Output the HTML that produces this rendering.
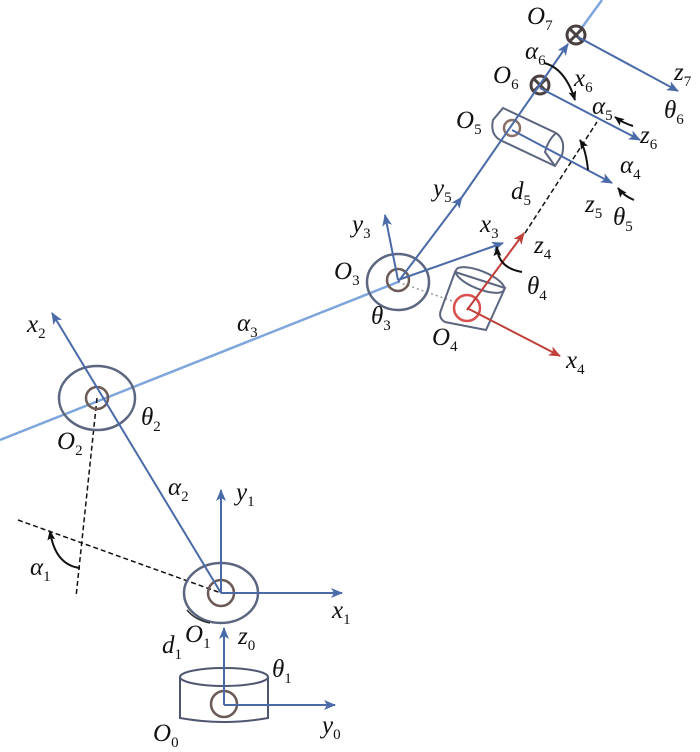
<!DOCTYPE html>
<html><head><meta charset="utf-8"><style>
html,body{margin:0;padding:0;background:#fff}
svg{display:block}
text{font-family:"Liberation Serif",serif;font-style:italic;font-size:25px;fill:#111}
tspan.s{font-size:15px;font-style:normal}
</style></head><body>
<svg width="700" height="752" viewBox="0 0 700 752" xmlns="http://www.w3.org/2000/svg">
<defs>
<marker id="ab" markerWidth="12" markerHeight="10" refX="11" refY="5" orient="auto" markerUnits="userSpaceOnUse"><path d="M0,0 L12,5 L0,10 L3,5 z" fill="#4a6aa8"/></marker>
<marker id="ar" markerWidth="12" markerHeight="10" refX="11" refY="5" orient="auto" markerUnits="userSpaceOnUse"><path d="M0,0 L12,5 L0,10 L3,5 z" fill="#c0403a"/></marker>
<marker id="ak" markerWidth="10" markerHeight="8" refX="9" refY="4" orient="auto" markerUnits="userSpaceOnUse"><path d="M0,0 L10,4 L0,8 L2,4 z" fill="#111"/></marker>
</defs>
<g fill="none">
<line x1="0" y1="440" x2="398" y2="282" stroke="#7ea6dc" stroke-width="2.5"/>
<line x1="398" y1="282" x2="455" y2="302" stroke="#999" stroke-width="1.5" stroke-dasharray="2,3"/>
<line x1="575" y1="37" x2="602" y2="0" stroke="#7ea6dc" stroke-width="2.5"/>
<g stroke="#111" stroke-width="1.5" stroke-dasharray="5,3">
<line x1="97" y1="398" x2="76" y2="597"/>
<line x1="18" y1="520" x2="221" y2="593"/>
<line x1="525" y1="233" x2="597" y2="122"/>
</g>
<g stroke="#5c6680" stroke-width="2.5">
<ellipse cx="97" cy="398" rx="38" ry="32"/>
<ellipse cx="398" cy="282" rx="31" ry="28"/>
<ellipse cx="221" cy="593" rx="37" ry="30"/>
</g>
<g stroke="#6b5a55" stroke-width="2.5">
<circle cx="97" cy="398" r="11"/>
<circle cx="398" cy="280" r="11"/>
<circle cx="221" cy="593" r="13"/>
<circle cx="224" cy="704" r="13"/>
</g>
<g stroke="#4f5670" stroke-width="2">
<ellipse cx="224" cy="677" rx="44" ry="9"/>
<path d="M180,677 V718 Q224,726 268,718 V677"/>
</g>
<g stroke="#5c6680" stroke-width="2">
<path d="M455,272 L505,288 L486,330 L445,322 Q438,318 441,310 Z"/>
<ellipse cx="480" cy="280" rx="26" ry="9" transform="rotate(22 480 280)"/>
</g>
<circle cx="467" cy="308" r="13" stroke="#d85050" stroke-width="2.5"/>
<g stroke="#5c6680" stroke-width="2">
<path d="M503,108 L556,133 Q566,140 562,155 L555,166 L500,140 Q490,134 493,120 Z"/>
<path d="M556,133 Q548,140 545,152 L555,166"/>
</g>
<circle cx="512" cy="128" r="8" stroke="#8a6f65" stroke-width="2.5"/>
<g stroke="#4a4040" stroke-width="3">
<circle cx="540" cy="85" r="9"/><line x1="534" y1="79" x2="546" y2="91"/><line x1="546" y1="79" x2="534" y2="91"/>
<circle cx="576" cy="35" r="9"/><line x1="570" y1="29" x2="582" y2="41"/><line x1="582" y1="29" x2="570" y2="41"/>
</g>
<g stroke="#4a6aa8" stroke-width="2" marker-end="url(#ab)">
<line x1="221" y1="593" x2="52" y2="313"/>
<line x1="221" y1="593" x2="221" y2="490"/>
<line x1="221" y1="593" x2="342" y2="593"/>
<line x1="224" y1="705" x2="224" y2="628"/>
<line x1="224" y1="705" x2="335" y2="705"/>
<line x1="398" y1="280" x2="385" y2="215"/>
<line x1="398" y1="280" x2="503" y2="243"/>
<line x1="398" y1="282" x2="462" y2="197"/>
<line x1="462" y1="197" x2="568" y2="44"/>
<line x1="512" y1="130" x2="612" y2="183"/>
<line x1="540" y1="88" x2="640" y2="140"/>
<line x1="578" y1="37" x2="678" y2="91"/>
</g>
<g stroke="#c0403a" stroke-width="2" marker-end="url(#ar)">
<line x1="467" y1="310" x2="524" y2="233"/>
<line x1="467" y1="308" x2="560" y2="356"/>
</g>
<g stroke="#111" stroke-width="2" marker-end="url(#ak)">
<path d="M80,568 Q55,565 50,531"/>
<path d="M522,272 Q498,268 497,247"/>
<path d="M544,63 Q565,68 575,100"/>
<path d="M588,170 Q586,150 580,140"/>
<path d="M633,126 Q623,123 615,117"/>
<path d="M634,200 Q624,196 618,188"/>
</g>
<path d="M187,610 Q195,620 210,623" stroke="#333" stroke-width="1.5"/>
</g>
<text x="27" y="332">x<tspan class="s" dy="6">2</tspan></text>
<text x="237" y="331">α<tspan class="s" dy="6">3</tspan></text>
<text x="141" y="425">θ<tspan class="s" dy="6">2</tspan></text>
<text x="57" y="449">O<tspan class="s" dy="6">2</tspan></text>
<text x="168" y="495">α<tspan class="s" dy="6">2</tspan></text>
<text x="236" y="500">y<tspan class="s" dy="6">1</tspan></text>
<text x="30" y="575">α<tspan class="s" dy="6">1</tspan></text>
<text x="332" y="618">x<tspan class="s" dy="6">1</tspan></text>
<text x="185" y="642">O<tspan class="s" dy="6">1</tspan></text>
<text x="238" y="644">z<tspan class="s" dy="6">0</tspan></text>
<text x="162" y="653">d<tspan class="s" dy="6">1</tspan></text>
<text x="272" y="677">θ<tspan class="s" dy="6">1</tspan></text>
<text x="322" y="733">y<tspan class="s" dy="6">0</tspan></text>
<text x="153" y="741">O<tspan class="s" dy="6">0</tspan></text>
<text x="334" y="279">O<tspan class="s" dy="6">3</tspan></text>
<text x="371" y="324">θ<tspan class="s" dy="6">3</tspan></text>
<text x="352" y="232">y<tspan class="s" dy="6">3</tspan></text>
<text x="480" y="232">x<tspan class="s" dy="6">3</tspan></text>
<text x="432" y="345">O<tspan class="s" dy="6">4</tspan></text>
<text x="566" y="368">x<tspan class="s" dy="6">4</tspan></text>
<text x="534" y="253">z<tspan class="s" dy="6">4</tspan></text>
<text x="527" y="294">θ<tspan class="s" dy="6">4</tspan></text>
<text x="433" y="196">y<tspan class="s" dy="6">5</tspan></text>
<text x="511" y="199">d<tspan class="s" dy="6">5</tspan></text>
<text x="585" y="212">z<tspan class="s" dy="6">5</tspan></text>
<text x="613" y="225">θ<tspan class="s" dy="6">5</tspan></text>
<text x="620" y="173">α<tspan class="s" dy="6">4</tspan></text>
<text x="640" y="143">z<tspan class="s" dy="6">6</tspan></text>
<text x="592" y="114">α<tspan class="s" dy="6">5</tspan></text>
<text x="456" y="128">O<tspan class="s" dy="6">5</tspan></text>
<text x="493" y="83">O<tspan class="s" dy="6">6</tspan></text>
<text x="525" y="59">α<tspan class="s" dy="6">6</tspan></text>
<text x="574" y="86">x<tspan class="s" dy="6">6</tspan></text>
<text x="527" y="24">O<tspan class="s" dy="6">7</tspan></text>
<text x="674" y="80">z<tspan class="s" dy="6">7</tspan></text>
<text x="664" y="118">θ<tspan class="s" dy="6">6</tspan></text>
</svg>
</body></html>
